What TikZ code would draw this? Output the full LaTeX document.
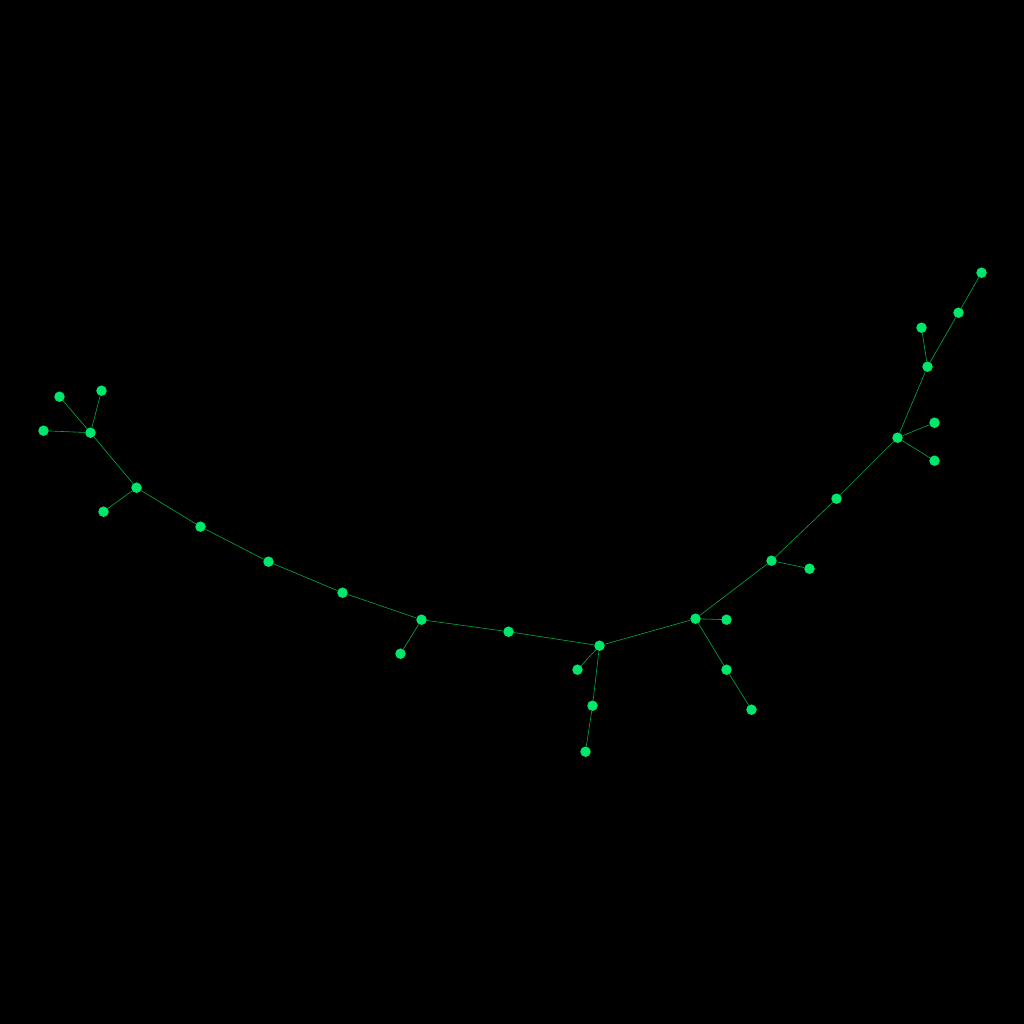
\documentclass[tikz,border=0pt]{standalone}
\definecolor{nodegreen}{RGB}{0,232,108}
\definecolor{edgegreen}{RGB}{0,170,70}
\tikzset{
  vtx/.style={circle,fill=nodegreen,draw=none,minimum size=10.5pt,inner sep=0pt},
  edge/.style={draw=edgegreen,line width=0.6pt}
}
\begin{document}
\begin{tikzpicture}[x=1pt,y=-1pt]
\fill[black] (0,0) rectangle (1024,1024);
\useasboundingbox (0,0) rectangle (1024,1024);
\begin{scope}[shift={(0.5,0.7)}]
\node[vtx] (a1) at (43,430) {};
\node[vtx] (a2) at (59,396) {};
\node[vtx] (a3) at (101,390) {};
\node[vtx] (a4) at (90,432) {};
\node[vtx] (a5) at (136,487) {};
\node[vtx] (a6) at (103,511) {};
\node[vtx] (b1) at (200,526) {};
\node[vtx] (b2) at (268,561) {};
\node[vtx] (b3) at (342,592) {};
\node[vtx] (b4) at (421,619) {};
\node[vtx] (b5) at (400,653) {};
\node[vtx] (b6) at (508,631) {};
\node[vtx] (c) at (599,645) {};
\node[vtx] (c1) at (577,669) {};
\node[vtx] (c2) at (592,705) {};
\node[vtx] (c3) at (585,751) {};
\node[vtx] (d) at (695,618) {};
\node[vtx] (d1) at (726,619) {};
\node[vtx] (d2) at (726,669) {};
\node[vtx] (d3) at (751,709) {};
\node[vtx] (e) at (771,560) {};
\node[vtx] (e1) at (809,568) {};
\node[vtx] (f) at (836,498) {};
\node[vtx] (g) at (897,437) {};
\node[vtx] (g1) at (934,422) {};
\node[vtx] (g2) at (934,460) {};
\node[vtx] (h) at (927,366) {};
\node[vtx] (h1) at (921,327) {};
\node[vtx] (i) at (958,312) {};
\node[vtx] (i1) at (981,272) {};
\end{scope}
\foreach \u/\v in {a1/a4,a2/a4,a3/a4,a4/a5,a5/a6,a5/b1,b1/b2,b2/b3,b3/b4,b4/b5,b4/b6,b6/c,c/c1,c/c2,c2/c3,c/d,d/d1,d/d2,d2/d3,d/e,e/e1,e/f,f/g,g/g1,g/g2,g/h,h/h1,h/i,i/i1}
  \draw[edge] (\u) -- (\v);
\end{tikzpicture}
\end{document}
